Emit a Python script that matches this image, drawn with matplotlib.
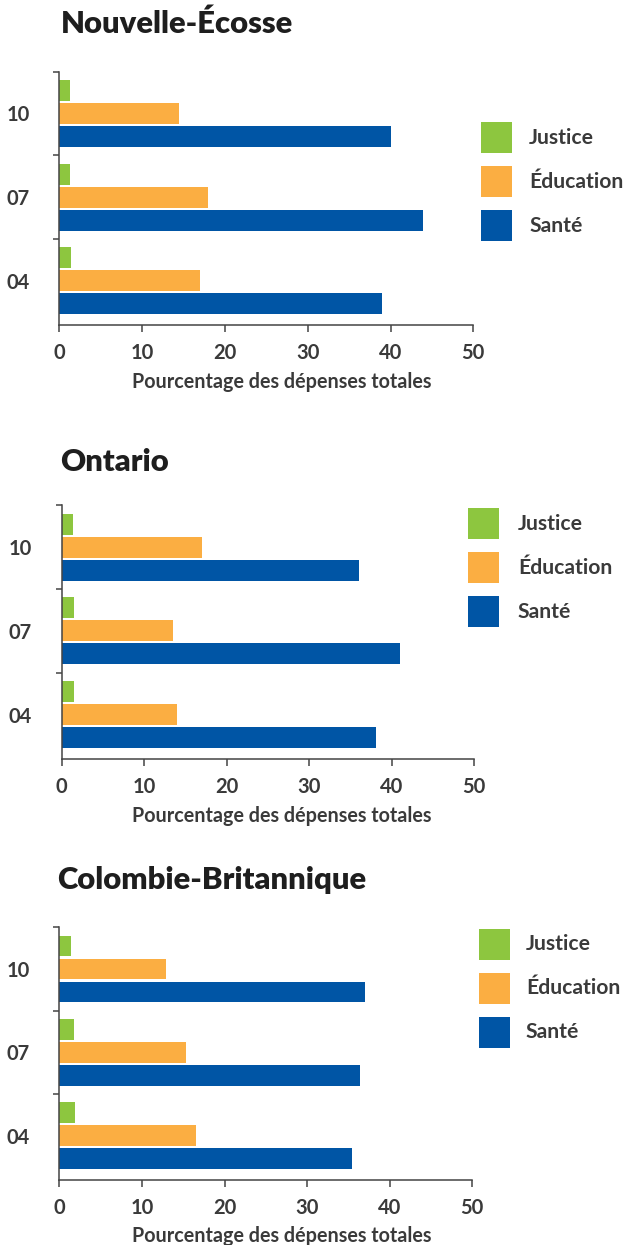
import matplotlib.pyplot as plt
from matplotlib.patches import Rectangle

plt.rcParams['font.family'] = ['Lato', 'DejaVu Sans']
plt.rcParams['font.weight'] = 'bold'

W, H = 626, 1245

years = ['04', '07', '10']
series = ['Justice', 'Éducation', 'Santé']
colors = ['#8dc63f', '#fbae42', '#0055a5']

provinces = ['Nouvelle-Écosse', 'Ontario', 'Colombie-Britannique']

# per province, per series, values for 04, 07, 10
ns_justice = [1.4, 1.3, 1.3]
ns_education = [17.0, 18.0, 14.5]
ns_sante = [39.0, 43.9, 40.0]

on_justice = [1.5, 1.5, 1.4]
on_education = [14.0, 13.5, 17.0]
on_sante = [38.1, 41.0, 36.0]

bc_justice = [1.9, 1.8, 1.4]
bc_education = [16.5, 15.3, 12.9]
bc_sante = [35.4, 36.4, 37.0]

data = [
    [ns_justice, ns_education, ns_sante],
    [on_justice, on_education, on_sante],
    [bc_justice, bc_education, bc_sante],
]

# layout in pixels: axes box (left, top, right, bottom), title pos, legend pos
axes_px = [(59.3, 71.7, 473.3, 325.0), (61.7, 505.3, 474.0, 759.0), (59.3, 927.3, 472.3, 1180.0)]
title_px = [(61, 33), (60, 471), (57, 889)]
legend_px = [(481, 122, 529), (468, 508, 518), (479, 929, 526)]

text_col = '#3a3a3a'
spine_col = '#444444'

fig = plt.figure(figsize=(W / 100, H / 100), dpi=100)


def fx(x):
    return x / W


def fy(y):
    return 1 - y / H


offsets = [0.275, 0.0, -0.275]
bar_h = 0.25

for i, name in enumerate(provinces):
    l, t, r, b = axes_px[i]
    ax = fig.add_axes([fx(l), fy(b), (r - l) / W, (b - t) / H])
    for k, s in enumerate(series):
        ys = [j + offsets[k] for j in range(len(years))]
        ax.barh(ys, data[i][k], height=bar_h, color=colors[k], label=s, linewidth=0)

    ax.set_xlim(0, 50)
    ax.set_ylim(-0.53, 2.5)
    ax.set_xticks([0, 10, 20, 30, 40, 50])
    ax.set_yticks(range(len(years)))
    ax.set_yticklabels(years, ha='left')
    ax.set_yticks([0.5, 1.5, 2.5], minor=True)
    for sp in ['top', 'right']:
        ax.spines[sp].set_visible(False)
    for sp in ['left', 'bottom']:
        ax.spines[sp].set_color(spine_col)
        ax.spines[sp].set_linewidth(1.1)
    ax.tick_params(axis='y', which='major', length=0, pad=38, labelsize=14.5, labelcolor=text_col)
    ax.tick_params(axis='y', which='minor', length=4, width=1.1, color=spine_col)
    ax.tick_params(axis='x', which='major', length=5, width=1.1, color=spine_col,
                   pad=8, labelsize=14.5, labelcolor=text_col)
    ax.set_xlabel('Pourcentage des dépenses totales', fontsize=14.2, fontweight='bold',
                  color=text_col)
    ax.xaxis.set_label_coords((282 - l) / (r - l), -(56.5 / (b - t)))
    ax.xaxis.label.set_va('center')

    tx, ty = title_px[i]
    fig.text(fx(tx), fy(ty), name, fontsize=22.3, fontweight='heavy', color='#1e1e1e',
             ha='left', va='baseline')

    # legend boxes
    lx, ly, ltx = legend_px[i]
    for k, s in enumerate(series):
        y0 = ly + k * 44
        fig.patches.append(Rectangle((fx(lx), fy(y0 + 31)), 31 / W, 31 / H,
                                     transform=fig.transFigure, color=colors[k], linewidth=0))
        fig.text(fx(ltx), fy(y0 + 15.5), s, fontsize=15.2, color=text_col,
                 ha='left', va='center')

fig.savefig('out.png', dpi=100)
